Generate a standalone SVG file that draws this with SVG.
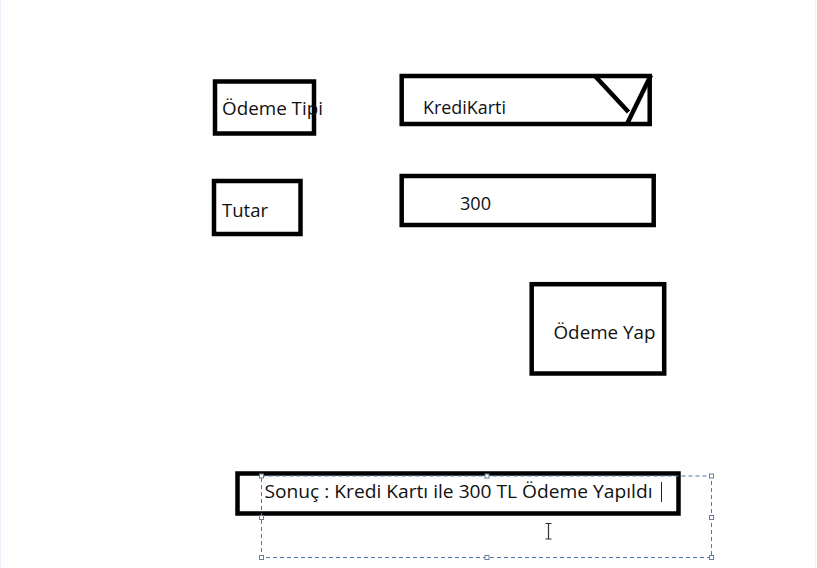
<svg xmlns="http://www.w3.org/2000/svg" width="817" height="568" viewBox="0 0 817 568">
<style>
.box{fill:#fff;stroke:#000;stroke-width:4.5}
.lbl{font-family:"Open Sans","Noto Sans","Liberation Sans",sans-serif;font-size:19px;fill:#111}
.sel{fill:none;stroke:#4f78b0;stroke-width:1;stroke-dasharray:4 3}
.h{fill:#fff;stroke:#6a7f99;stroke-width:1}
</style>
<rect x="0" y="0" width="817" height="568" fill="#fefefe"/>
<line x1="0.5" y1="0" x2="0.5" y2="568" stroke="#eeeefa" stroke-width="1"/>
<line x1="815.5" y1="0" x2="815.5" y2="568" stroke="#f2f2f8" stroke-width="1"/>
<g id="odeme-tipi-label">
<rect class="box" x="215" y="81.5" width="99" height="52"/>
<text class="lbl" x="222" y="115" textLength="101" lengthAdjust="spacingAndGlyphs">Ödeme Tipi</text>
</g>
<g id="odeme-tipi-combo">
<rect class="box" x="401.7" y="76" width="248" height="48"/>
<polyline points="595,76 628.5,112" fill="none" stroke="#000" stroke-width="4.5"/>
<line x1="651" y1="75" x2="626.5" y2="125" stroke="#000" stroke-width="4.5"/>
<text class="lbl" x="423" y="114" textLength="83" lengthAdjust="spacingAndGlyphs">KrediKarti</text>
</g>
<g id="tutar-label">
<rect class="box" x="214" y="181" width="86.5" height="53"/>
<text class="lbl" x="222" y="217" textLength="46" lengthAdjust="spacingAndGlyphs">Tutar</text>
</g>
<g id="tutar-input">
<rect class="box" x="401.7" y="176" width="252" height="49"/>
<text class="lbl" x="460" y="210" textLength="31" lengthAdjust="spacingAndGlyphs">300</text>
</g>
<g id="odeme-yap-button">
<rect class="box" x="531.7" y="284.2" width="132.5" height="89.3"/>
<text class="lbl" x="553.5" y="339" textLength="102" lengthAdjust="spacingAndGlyphs">Ödeme Yap</text>
</g>
<g id="sonuc-label">
<rect class="box" x="237.5" y="473.5" width="441" height="40"/>
<text class="lbl" x="264.5" y="497.5" textLength="388" lengthAdjust="spacingAndGlyphs">Sonuç : Kredi Kartı ile 300 TL Ödeme Yapıldı</text>
<line x1="661.5" y1="482" x2="661.5" y2="502" stroke="#222" stroke-width="1"/>
</g>
<g id="selection">
<rect class="sel" x="261.5" y="476" width="450" height="81.5"/>
<rect class="h" x="259.5" y="474" width="4" height="4"/>
<rect class="h" x="485" y="474" width="4" height="4"/>
<rect class="h" x="709.5" y="474" width="4" height="4"/>
<rect class="h" x="259.5" y="515.5" width="4" height="4"/>
<rect class="h" x="709.5" y="515.5" width="4" height="4"/>
<rect class="h" x="259.5" y="555.5" width="4" height="4"/>
<rect class="h" x="485" y="555.5" width="4" height="4"/>
<rect class="h" x="709.5" y="555.5" width="4" height="4"/>
<path d="M545.5,523.5 H551.5 M548.5,523.5 V539 M545.5,539 H551.5" fill="none" stroke="#333" stroke-width="1.2"/>
</g>
</svg>
